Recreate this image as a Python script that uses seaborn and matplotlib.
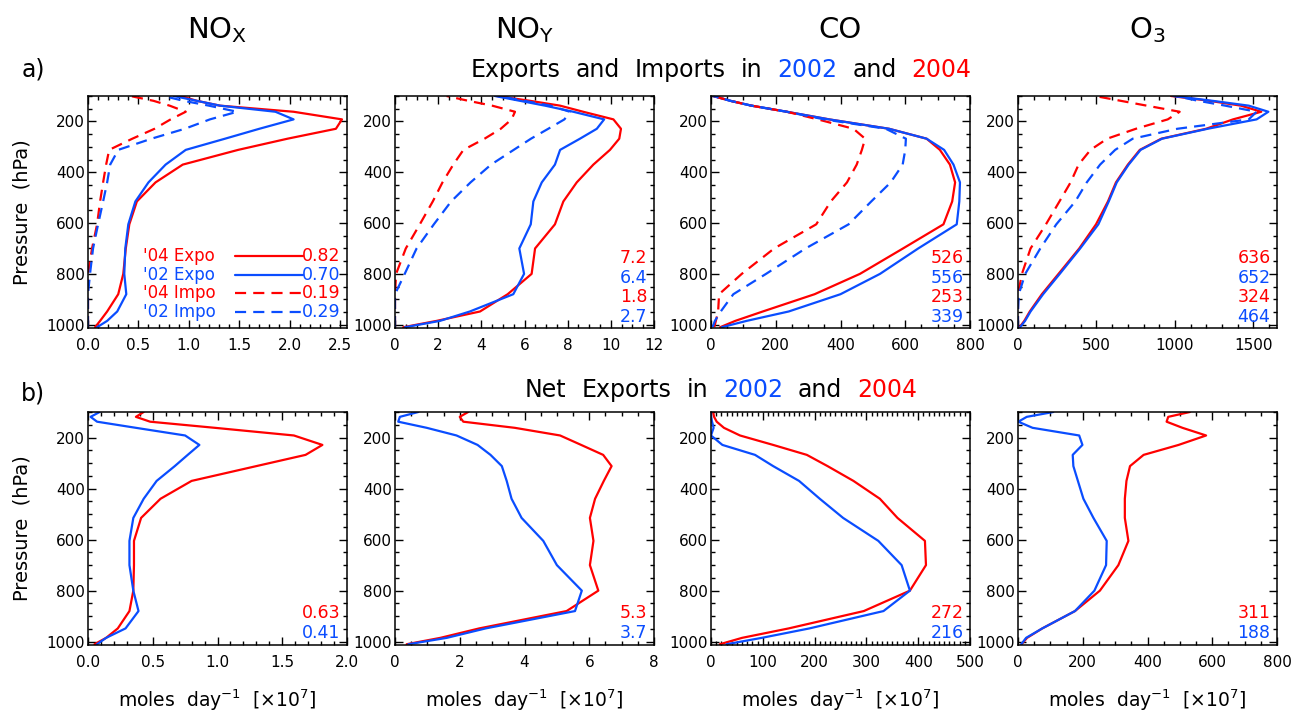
import numpy as np
import pandas as pd
import seaborn as sns
import matplotlib.pyplot as plt
from matplotlib.ticker import MultipleLocator, FormatStrFormatter

sns.set_style("ticks")
plt.rcParams['font.family'] = ['DejaVu Sans']
plt.rcParams['mathtext.default'] = 'regular'
plt.rcParams['text.color'] = 'black'
plt.rcParams['xtick.color'] = 'black'
plt.rcParams['ytick.color'] = 'black'
plt.rcParams['xtick.labelcolor'] = 'black'
plt.rcParams['ytick.labelcolor'] = 'black'

RED = '#ff0000'
BLUE = '#0a4dff'

# pressure levels (hPa), shared by every profile
pressure = [1010, 985, 948, 880, 800, 700, 605, 515, 440, 370, 312, 268, 229, 192, 162, 138, 119, 100]

# a) exports / imports
nox_exp04 = [0.07, 0.12, 0.19, 0.30, 0.35, 0.375, 0.41, 0.485, 0.67, 0.94, 1.49, 1.98, 2.46, 2.52, 2.04, 1.31, 1.08, 0.92]
nox_exp02 = [0.09, 0.19, 0.29, 0.38, 0.36, 0.37, 0.40, 0.47, 0.60, 0.77, 0.97, 1.36, 1.70, 2.04, 1.86, 1.31, 1.08, 0.85]
nox_imp04 = [0, 0, 0, 0, 0, 0.04, 0.09, 0.12, 0.15, 0.18, 0.21, 0.44, 0.66, 0.82, 0.97, 0.81, 0.65, 0.42]
nox_imp02 = [0, 0, 0, 0, 0.02, 0.05, 0.10, 0.15, 0.19, 0.22, 0.30, 0.63, 0.96, 1.21, 1.48, 1.20, 0.95, 0.75]

noy_exp04 = [0.38, 1.93, 3.94, 5.22, 6.33, 6.49, 7.41, 7.80, 8.42, 9.19, 9.96, 10.39, 10.47, 10.12, 8.72, 7.65, 6.26, 4.71]
noy_exp02 = [0.46, 2.08, 3.47, 5.48, 5.98, 5.76, 6.29, 6.41, 6.80, 7.41, 7.65, 8.57, 9.35, 9.69, 8.26, 6.95, 5.79, 4.63]
noy_imp04 = [0, 0, 0, 0, 0.05, 0.5, 1.15, 1.75, 2.2, 2.7, 3.17, 4.15, 4.9, 5.4, 5.56, 4.5, 3.4, 2.39]
noy_imp02 = [0, 0, 0, 0, 0.45, 1.0, 1.8, 2.6, 3.5, 4.45, 5.5, 6.3, 7.1, 7.85, 8.1, 7.2, 6.0, 4.8]

co_exp04 = [28, 75, 160, 320, 460, 593, 718, 745, 754, 738, 707, 666, 550, 365, 234, 125, 60, 7]
co_exp02 = [33, 110, 240, 400, 522, 640, 759, 767, 769, 749, 720, 666, 550, 365, 234, 125, 60, 7]
co_imp04 = [10, 15, 22, 25, 95, 195, 325, 370, 420, 450, 466, 476, 440, 330, 234, 125, 60, 7]
co_imp02 = [5, 12, 30, 69, 170, 292, 425, 495, 555, 592, 600, 602, 540, 350, 234, 125, 60, 7]

o3_exp04 = [10, 40, 75, 152, 258, 390, 497, 573, 624, 700, 776, 913, 1198, 1370, 1550, 1420, 1220, 975]
o3_exp02 = [13, 45, 80, 160, 266, 396, 512, 578, 629, 705, 781, 918, 1208, 1520, 1595, 1470, 1240, 990]
o3_imp04 = [0, 0, 0, 0, 25, 80, 178, 264, 335, 386, 462, 568, 751, 954, 1030, 820, 655, 490]
o3_imp02 = [0, 0, 0, 5, 46, 142, 244, 365, 438, 523, 619, 731, 1015, 1470, 1520, 1320, 1150, 1000]

# b) net exports
nox_net04 = [0.05, 0.14, 0.23, 0.32, 0.35, 0.355, 0.355, 0.41, 0.56, 0.80, 1.30, 1.68, 1.81, 1.59, 0.98, 0.48, 0.37, 0.43]
nox_net02 = [0.07, 0.14, 0.29, 0.39, 0.35, 0.32, 0.32, 0.35, 0.43, 0.53, 0.67, 0.77, 0.86, 0.75, 0.37, 0.07, 0.02, 0.09]
noy_net04 = [0.36, 1.4, 2.6, 5.3, 6.28, 6.02, 6.13, 6.02, 6.18, 6.45, 6.69, 6.43, 5.75, 5.1, 3.7, 2.11, 2.0, 2.26]
noy_net02 = [0.41, 1.6, 2.8, 5.56, 5.77, 5.0, 4.58, 3.91, 3.60, 3.45, 3.30, 2.95, 2.55, 1.9, 0.98, 0.10, 0.15, 0.72]
co_net04 = [17, 60, 150, 295, 384, 415, 413, 360, 326, 275, 225, 185, 120, 56, 25, 11, 6, 4]
co_net02 = [30, 98, 190, 333, 384, 368, 323, 255, 210, 170, 120, 85, 22, 0, 5, 2, 0, 0]
o3_net04 = [11, 28, 75, 176, 253, 310, 341, 330, 330, 335, 346, 388, 496, 581, 508, 459, 464, 531]
o3_net02 = [10, 25, 75, 176, 236, 272, 274, 233, 202, 185, 171, 169, 199, 189, 45, 1, 27, 109]

species = [r'NO$_{\rm X}$', r'NO$_{\rm Y}$', 'CO', r'O$_{\rm 3}$']
legend_labels = ["'04 Expo", "'02 Expo", "'04 Impo", "'02 Impo"]
top_totals = [['0.82', '0.70', '0.19', '0.29'], ['7.2', '6.4', '1.8', '2.7'],
              ['526', '556', '253', '339'], ['636', '652', '324', '464']]
bot_totals = [['0.63', '0.41'], ['5.3', '3.7'], ['272', '216'], ['311', '188']]

top_series = [[nox_exp04, nox_exp02, nox_imp04, nox_imp02],
              [noy_exp04, noy_exp02, noy_imp04, noy_imp02],
              [co_exp04, co_exp02, co_imp04, co_imp02],
              [o3_exp04, o3_exp02, o3_imp04, o3_imp02]]
bot_series = [[nox_net04, nox_net02], [noy_net04, noy_net02],
              [co_net04, co_net02], [o3_net04, o3_net02]]

top_xlim = [2.57, 12, 800, 1650]
top_major = [0.5, 2, 200, 500]
top_minor = [0.1, 0.5, 50, 100]
bot_xlim = [2, 8, 500, 800]
bot_major = [0.5, 2, 100, 200]
bot_minor = [0.1, 0.5, 10, 50]
fmts = ['%.1f', '%d', '%d', '%d']

W, H = 1293, 714
fig = plt.figure(figsize=(W / 100, H / 100), dpi=100)
lefts = [88, 395, 711, 1018]
pw = 259
rows = [(96, 328), (412, 645)]

dash = (0, (5, 3.2))
styles = [(RED, '-'), (BLUE, '-'), (RED, dash), (BLUE, dash)]


def setup_axis(ax, xmax, major, minor, fmt):
    ax.set_xlim(0, xmax)
    ax.set_ylim(1013, 100)
    ax.xaxis.set_major_locator(MultipleLocator(major))
    ax.xaxis.set_minor_locator(MultipleLocator(minor))
    ax.xaxis.set_major_formatter(FormatStrFormatter(fmt))
    ax.set_yticks([200, 400, 600, 800, 1000])
    ax.yaxis.set_minor_locator(MultipleLocator(50))
    ax.tick_params(which='both', direction='in', top=True, right=True, width=1.0,
                   colors='black', labelcolor='black')
    ax.tick_params(which='major', length=5.5)
    ax.tick_params(which='minor', length=2.8)
    ax.tick_params(axis='x', which='major', labelsize=11, pad=7)
    ax.tick_params(axis='y', which='major', labelsize=11, pad=2)
    for s in ax.spines.values():
        s.set_linewidth(1.1)
        s.set_color('black')
    ax.set_xlabel('')
    ax.set_ylabel('')


for row, (t, b) in enumerate(rows):
    for col in range(4):
        ax = fig.add_axes([lefts[col] / W, 1 - b / H, pw / W, (b - t) / H])
        if row == 0:
            series = top_series[col]
            for vals, (c, ls) in zip(series, styles):
                sns.lineplot(x=vals, y=pressure, orient='y', sort=False, estimator=None,
                             color=c, linestyle=ls, linewidth=1.6, ax=ax, legend=False)
            setup_axis(ax, top_xlim[col], top_major[col], top_minor[col], fmts[col])
            if col == 0:
                ys = [0.310, 0.228, 0.151, 0.069]
                for i in range(4):
                    c, ls = styles[i]
                    ax.text(0.212, ys[i], legend_labels[i], color=c, fontsize=12,
                            transform=ax.transAxes, va='center', ha='left')
                    ax.plot([0.568, 0.830], [ys[i], ys[i]], color=c, linestyle=ls,
                            linewidth=1.6, transform=ax.transAxes)
                    ax.text(0.975, ys[i], top_totals[col][i], color=c, fontsize=12.5,
                            transform=ax.transAxes, va='center', ha='right')
            else:
                ys = [0.302, 0.216, 0.134, 0.047]
                for i in range(4):
                    ax.text(0.975, ys[i], top_totals[col][i], color=styles[i][0], fontsize=12.5,
                            transform=ax.transAxes, va='center', ha='right')
        else:
            series = bot_series[col]
            for vals, c in zip(series, [RED, BLUE]):
                sns.lineplot(x=vals, y=pressure, orient='y', sort=False, estimator=None,
                             color=c, linewidth=1.6, ax=ax, legend=False)
            setup_axis(ax, bot_xlim[col], bot_major[col], bot_minor[col], fmts[col])
            for i, yy in enumerate([0.137, 0.052]):
                ax.text(0.975, yy, bot_totals[col][i], color=[RED, BLUE][i], fontsize=12.5,
                        transform=ax.transAxes, va='center', ha='right')

# column headings
for col in range(4):
    fig.text((lefts[col] + pw / 2) / W, 1 - 30 / H, species[col], fontsize=21,
             ha='center', va='center', color='black')
    fig.text((lefts[col] + pw / 2) / W, 1 - 700 / H, r'moles  day$^{-1}$  [$\times$10$^{7}$]',
             fontsize=13.5, ha='center', va='center', color='black')

for (t, b) in rows:
    fig.text(22 / W, 1 - ((t + b) / 2) / H, 'Pressure  (hPa)', rotation=90, fontsize=14,
             ha='center', va='center', color='black')

fig.text(33 / W, 1 - 70 / H, 'a)', fontsize=17, ha='center', va='center', color='black')
fig.text(33 / W, 1 - 393 / H, 'b)', fontsize=17, ha='center', va='center', color='black')


def colored_heading(xc, yc, parts, size, gap=15):
    renderer = fig.canvas.get_renderer()
    texts = [fig.text(0, 1 - yc / H, s, color=c, fontsize=size, va='center', ha='left')
             for s, c in parts]
    widths = [tx.get_window_extent(renderer).width for tx in texts]
    total = sum(widths) + gap * (len(parts) - 1)
    x = xc - total / 2
    for tx, w in zip(texts, widths):
        tx.set_x(x / W)
        x += w + gap


colored_heading(721, 70, [('Exports', 'black'), ('and', 'black'), ('Imports', 'black'),
                          ('in', 'black'), ('2002', BLUE), ('and', 'black'), ('2004', RED)], 17)
colored_heading(721, 390, [('Net', 'black'), ('Exports', 'black'), ('in', 'black'),
                           ('2002', BLUE), ('and', 'black'), ('2004', RED)], 17)

fig.savefig('out.png', dpi=100)
